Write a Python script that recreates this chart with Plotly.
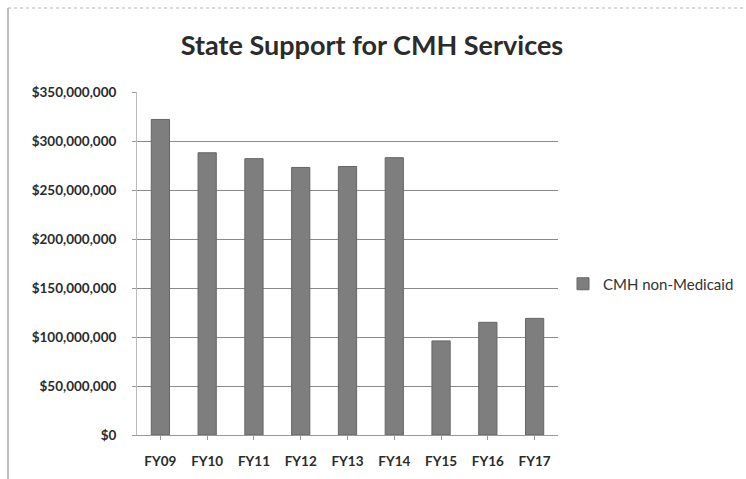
import plotly.graph_objects as go

# State support for community mental health services, by fiscal year
years = ["FY09", "FY10", "FY11", "FY12", "FY13", "FY14", "FY15", "FY16", "FY17"]
cmh_non_medicaid = [322e6, 288e6, 282e6, 273e6, 274e6, 283e6, 96e6, 115e6, 119e6]
y_ticks = [0, 50e6, 100e6, 150e6, 200e6, 250e6, 300e6, 350e6]
y_tick_labels = ["$0", "$50,000,000", "$100,000,000", "$150,000,000", "$200,000,000",
                 "$250,000,000", "$300,000,000", "$350,000,000"]

W, H = 746, 479
L, R, T, B = 137, 188, 92, 44

fig = go.Figure()
fig.add_trace(go.Bar(
    x=years, y=cmh_non_medicaid, name="CMH non-Medicaid",
    marker=dict(color="#7e7e7e", line=dict(color="#666666", width=1)),
    showlegend=True,
))

pw = W - L - R
ph = H - T - B

def px_x(p):
    return (p - L) / pw

def px_y(p):
    return (H - B - p) / ph

tick_font = dict(size=13.5, color="#2b2b2b", family="Lato, sans-serif", weight="bold")

fig.update_layout(
    width=W, height=H,
    margin=dict(l=L, r=R, t=T, b=B, autoexpand=False),
    paper_bgcolor="white", plot_bgcolor="white",
    bargap=0.61,
    showlegend=True,
    font=dict(family="Lato, sans-serif", color="#333333"),
    title=dict(text="<b>State Support for CMH Services</b>", x=372 / W, xanchor="center",
               y=1 - 46 / H, yanchor="middle",
               font=dict(size=27, color="#2b2b2b", family="Lato, sans-serif")),
    legend=dict(x=px_x(563), y=px_y(284), xanchor="left", yanchor="middle",
                font=dict(size=15, color="#333333", family="Lato, sans-serif"),
                itemwidth=30, bgcolor="rgba(0,0,0,0)"),
    xaxis=dict(showgrid=False, showline=True, linecolor="#999999", linewidth=1,
               ticks="outside", ticklen=4, tickcolor="#999999", automargin=False,
               tickfont=tick_font, ticklabelstandoff=10),
    yaxis=dict(range=[0, 350e6], tickvals=y_ticks, ticktext=y_tick_labels,
               showgrid=True, gridcolor="#8a8a8a", gridwidth=1,
               showline=True, linecolor="#bbbbbb", linewidth=1, automargin=False,
               ticks="outside", ticklen=4, tickcolor="#999999",
               tickfont=tick_font, ticklabelstandoff=13, zeroline=False),
    shapes=[
        # outer frame: left edge and top edge of the chart box
        dict(type="line", xref="paper", yref="paper",
             x0=px_x(8), x1=px_x(8), y0=px_y(8), y1=px_y(479),
             line=dict(color="#aaaaaa", width=1.5)),
        dict(type="line", xref="paper", yref="paper",
             x0=px_x(8), x1=px_x(746), y0=px_y(8), y1=px_y(8),
             line=dict(color="#b5b5b5", width=1, dash="dot")),
    ],
)

fig.write_html("out.html")
